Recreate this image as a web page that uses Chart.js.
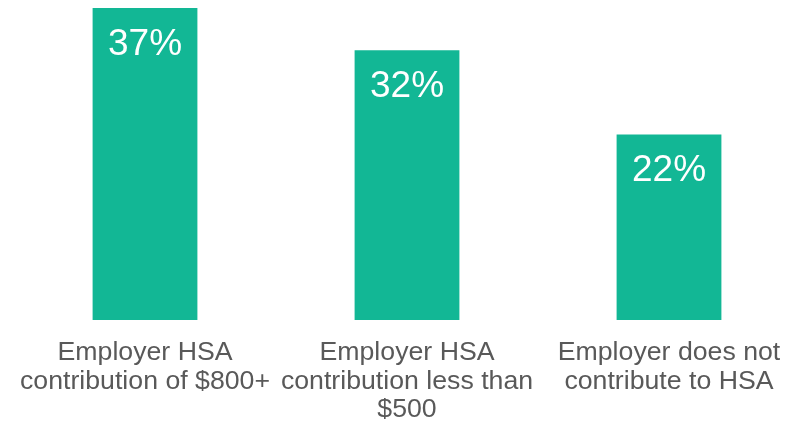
<!DOCTYPE html>
<html>
<head>
<meta charset="utf-8">
<script src="https://cdn.jsdelivr.net/npm/chart.js@4.4.0/dist/chart.umd.min.js"></script>
<style>
  html, body { margin: 0; padding: 0; background: #ffffff; overflow: hidden; }
  #wrap { width: 800px; height: 424px; position: relative; }
</style>
</head>
<body>
<div id="wrap"><canvas id="c"></canvas></div>
<script>
const categories = [
  ["Employer HSA", "contribution of $800+"],
  ["Employer HSA", "contribution less than", "$500"],
  ["Employer does not", "contribute to HSA"]
];
const values = [37, 32, 22];
const valueLabels = ["37%", "32%", "22%"];

const barColor = "#12B795";
const textColor = "#595959";

const valueLabelPlugin = {
  id: "valueLabels",
  afterDatasetsDraw(chart) {
    const ctx = chart.ctx;
    const meta = chart.getDatasetMeta(0);
    ctx.save();
    ctx.fillStyle = "#ffffff";
    ctx.font = "37px 'Liberation Sans', Arial, sans-serif";
    ctx.textAlign = "center";
    ctx.textBaseline = "middle";
    meta.data.forEach((bar, i) => {
      ctx.fillText(valueLabels[i], bar.x, bar.y + 36.5);
    });
    ctx.restore();
  }
};

new Chart(document.getElementById("c"), {
  type: "bar",
  data: {
    labels: categories,
    datasets: [{
      data: values,
      backgroundColor: barColor,
      borderWidth: 0,
      categoryPercentage: 1.0,
      barPercentage: 0.4
    }]
  },
  options: {
    responsive: true,
    maintainAspectRatio: false,
    animation: false,
    layout: { padding: { left: 12, right: 0, top: 8, bottom: 0 } },
    plugins: { legend: { display: false }, tooltip: { enabled: false } },
    scales: {
      x: {
        grid: { display: false, drawTicks: false },
        border: { display: false },
        afterFit(scale) { scale.height = 104; },
        ticks: {
          color: textColor,
          padding: 18,
          maxRotation: 0,
          autoSkip: false,
          font: { family: "'Liberation Sans', Arial, sans-serif", size: 26.7, lineHeight: 1.08 }
        }
      },
      y: {
        display: false,
        min: 0,
        max: 37
      }
    }
  },
  plugins: [valueLabelPlugin]
});
</script>
</body>
</html>
